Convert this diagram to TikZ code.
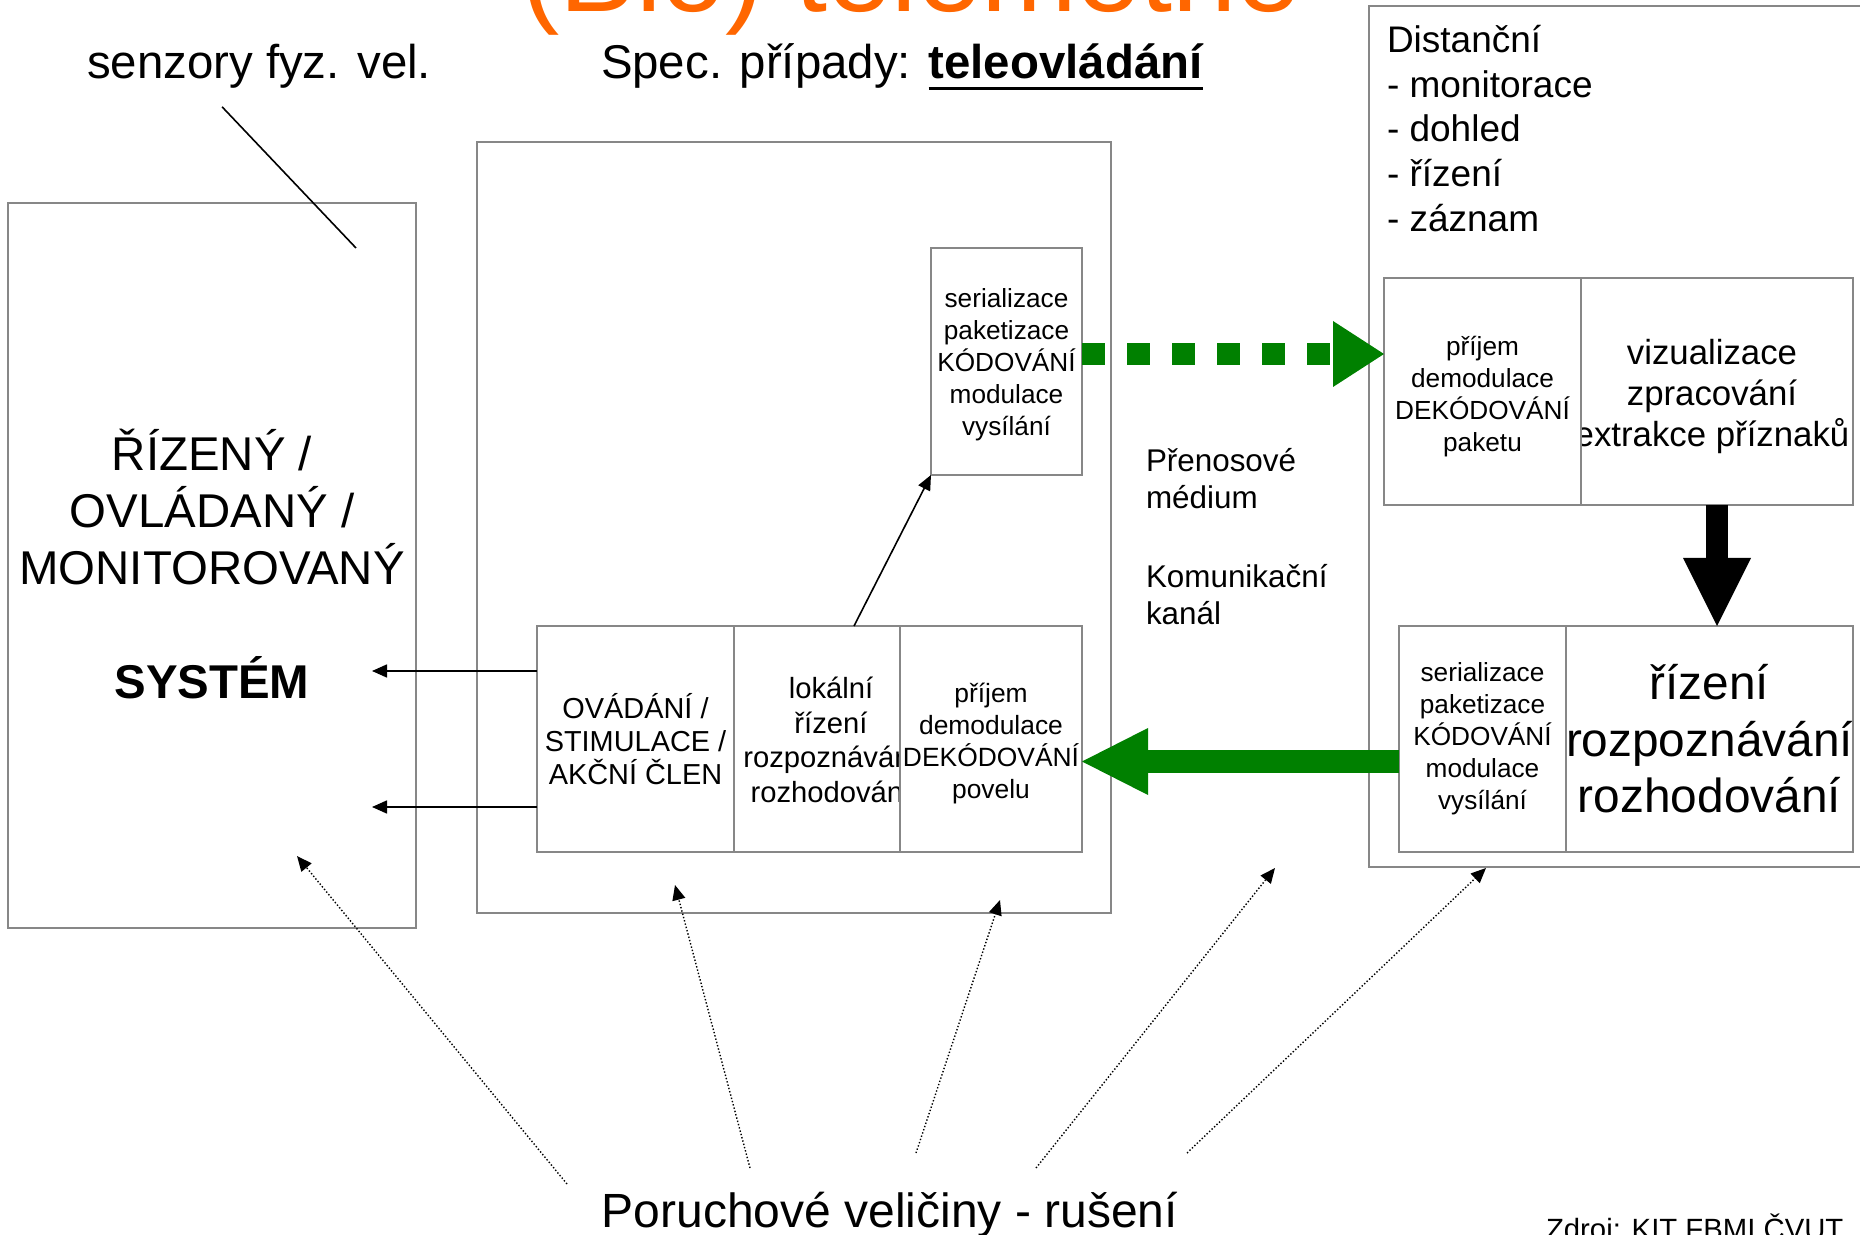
\documentclass[tikz,border=0pt]{standalone}
\usepackage{fontspec}
\setmainfont{Liberation Sans}
\usetikzlibrary{arrows.meta,calc}
\definecolor{framegray}{RGB}{135,135,135}
\definecolor{linkgreen}{RGB}{0,128,0}
\definecolor{headorange}{RGB}{255,102,0}
\newcommand\fsz[2]{\fontsize{#1pt}{#2pt}\selectfont}
\newcommand\thickul[1]{\setbox0=\hbox{#1}\rlap{\rule[-5.75pt]{\wd0}{1.5pt}}\box0}

\begin{document}
\begin{tikzpicture}[x=0.5pt,y=-0.5pt,
  frame/.style={draw=framegray, line width=1pt, fill=white, inner sep=0pt, outer sep=0pt, align=center},
  lbl/.style={inner sep=0pt, outer sep=0pt},
  celltext/.style={inner sep=0pt, outer sep=0pt, align=center},
  tip/.style={-{Triangle[length=7.5pt,width=6.5pt]}},
  wire/.style={line width=0.8pt, tip},
  noise/.style={line width=0.7pt, densely dotted, tip},
]
\path[use as bounding box] (0,0) rectangle (1860,1235);
\clip (0,0) rectangle (1860,1235);

% headings
\node[lbl, anchor=base west, font=\fsz{57.5}{69}, text=headorange] (title) at (521,12) {(Bio) telemetrie};
\node[lbl, anchor=base west, font=\fsz{23.7}{28.5}] (sen) at (87,79) {senzory fyz. vel.};
\node[lbl, anchor=base west, font=\fsz{23.7}{28.5}] (spec) at (601,79) {Spec. případy: \thickul{\bfseries teleovládání}};

% controlled system
\node[frame, minimum width=204pt, minimum height=362.5pt,
      label={[celltext, font=\fsz{23.7}{28.5}, yshift=0.8pt]center:{ŘÍZENÝ /\\OVLÁDANÝ /\\MONITOROVANÝ\\[28.5pt]\textbf{SYSTÉM}}}]
  (sys) at (212,565.5) {};

% local station
\node[frame, minimum width=317pt, minimum height=385.5pt] (mid) at (794,527.5) {};
\node[frame, minimum width=75.5pt, minimum height=113.5pt,
      label={[celltext, font=\fsz{13.1}{16}, yshift=-1.75pt]center:{serializace\\paketizace\\KÓDOVÁNÍ\\modulace\\vysílání}}]
  (tx) at (1006.5,361.5) {};
\node[frame, minimum width=98.5pt, minimum height=113pt, font=\fsz{14.45}{16.5}] (act) at (635.5,739)
  {OVÁDÁNÍ /\\STIMULACE /\\AKČNÍ ČLEN};
\node[frame, minimum width=83pt, minimum height=113pt] (loc) at (817,739) {};
\node[celltext, font=\fsz{14.6}{17.25}] (loctext) at (831,740)
  {lokální\\řízení\\rozpoznávání\\rozhodování};
\node[frame, minimum width=91pt, minimum height=113pt,
      label={[celltext, font=\fsz{13.2}{16}, yshift=-2.5pt]center:{příjem\\demodulace\\DEKÓDOVÁNÍ\\povelu}}]
  (cmdrx) at (991,739) {};

% remote station
\node[frame, minimum width=265.5pt, minimum height=430.5pt] (remote) at (1634.5,436.5) {};
\node[lbl, anchor=base west, font=\fsz{18.5}{22}] (dist0) at (1387,53) {Distanční};
\node[lbl, anchor=base west, font=\fsz{18.5}{22}] (dist1) at (1387,97.5) {- monitorace};
\node[lbl, anchor=base west, font=\fsz{18.5}{22}] (dist2) at (1387,142) {- dohled};
\node[lbl, anchor=base west, font=\fsz{18.5}{22}] (dist3) at (1387,186.5) {- řízení};
\node[lbl, anchor=base west, font=\fsz{18.5}{22}] (dist4) at (1387,232) {- záznam};
\node[frame, minimum width=136pt, minimum height=113.5pt,
      label={[celltext, font=\fsz{17.4}{20.5}, xshift=-2.5pt, yshift=-2.5pt]center:{vizualizace\\zpracování\\extrakce příznaků}}]
  (viz) at (1717,391.5) {};
\node[frame, minimum width=98.5pt, minimum height=113.5pt,
      label={[celltext, font=\fsz{13.1}{16}, yshift=-2.5pt]center:{příjem\\demodulace\\DEKÓDOVÁNÍ\\paketu}}]
  (rx) at (1482.5,391.5) {};
\node[frame, minimum width=143.5pt, minimum height=113pt, font=\fsz{23.9}{28.2}] (ctl) at (1709.5,739)
  {řízení\\rozpoznávání\\rozhodování};
\node[frame, minimum width=83.5pt, minimum height=113pt, font=\fsz{13.1}{16}] (txr) at (1482.5,739)
  {serializace\\paketizace\\KÓDOVÁNÍ\\modulace\\vysílání};

% transmission medium
\node[lbl, anchor=base west, font=\fsz{15.7}{18.5}] (med1) at (1146,472) {Přenosové};
\node[lbl, anchor=base west, font=\fsz{15.7}{18.5}] (med2) at (1146,509) {médium};
\node[lbl, anchor=base west, font=\fsz{15.7}{18.5}] (kom1) at (1146,588) {Komunikační};
\node[lbl, anchor=base west, font=\fsz{15.7}{18.5}] (kom2) at (1146,625) {kanál};

% disturbances and source
\node[lbl, anchor=base, font=\fsz{24}{29}] (por) at (890,1227) {Poruchové veličiny - rušení};
\node[lbl, anchor=base west, font=\fsz{14.65}{17.5}] (src) at (1546,1239) {Zdroj: KIT FBMI ČVUT};

% sensor pointer and actuator outputs
\coordinate (senend) at (356,248);
\draw[line width=0.8pt] ([shift={(-37,18)}]sen.south) -- (senend);
\coordinate (sysin1) at (372,671);
\coordinate (sysin2) at (372,807);
\draw[wire] ([shift={(0,-68)}]act.west) -- (sysin1);
\draw[wire] ([shift={(0,68)}]act.west) -- (sysin2);
\draw[wire] ([shift={(37,0)}]loc.north) -- (tx.south west);

% telemetry links
\draw[line width=11pt, linkgreen, dash pattern=on 11.25pt off 11.25pt,
      -{Triangle[length=25.5pt,width=33pt,line width=0pt]}]
  ([shift={(0,-7.5)}]tx.east) -- ([shift={(0,-37.5)}]rx.west);
\draw[line width=11.5pt, linkgreen, -{Triangle[length=33pt,width=33.5pt,line width=0pt]}]
  ([shift={(0,22.5)}]txr.west) -- ([shift={(0,22.5)}]cmdrx.east);
\draw[line width=11pt, -{Triangle[length=34pt,width=34pt,line width=0pt]}]
  (viz.south) -- (viz.south |- ctl.north);

% disturbance arrows
\coordinate (n1s) at (567,1184);  \coordinate (n1e) at (297,856);
\coordinate (n2s) at (750,1168);  \coordinate (n2e) at (675,885);
\coordinate (n3s) at (916,1153);  \coordinate (n3e) at (1000,900);
\coordinate (n4s) at (1036,1168); \coordinate (n4e) at (1275,868);
\coordinate (n5s) at (1187,1153); \coordinate (n5e) at (1486,868);
\draw[noise] (n1s) -- (n1e);
\draw[noise] (n2s) -- (n2e);
\draw[noise] (n3s) -- (n3e);
\draw[noise] (n4s) -- (n4e);
\draw[noise] (n5s) -- (n5e);
\end{tikzpicture}
\end{document}
